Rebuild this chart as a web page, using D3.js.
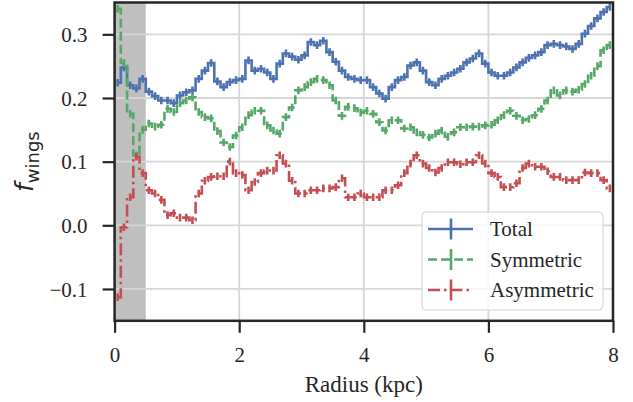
<!DOCTYPE html>
<html><head><meta charset="utf-8">
<script src="https://cdn.jsdelivr.net/npm/d3@7"></script>
<style>body{margin:0;background:#fff} .serif{font-family:"Liberation Serif","Times New Roman","DejaVu Serif",serif;}</style>
</head><body><svg id="c" width="633" height="402"></svg>
<script>
const radius = [0.05,0.15,0.25,0.35,0.45,0.55,0.65,0.75,0.85,0.95,1.05,1.15,1.25,1.35,1.45,1.55,1.65,1.75,1.85,1.95,
2.05,2.15,2.25,2.35,2.45,2.55,2.65,2.75,2.85,2.95,3.05,3.15,3.25,3.35,3.45,3.55,3.65,3.75,3.85,3.95,
4.05,4.15,4.25,4.35,4.45,4.55,4.65,4.75,4.85,4.95,5.05,5.15,5.25,5.35,5.45,5.55,5.65,5.75,5.85,5.95,
6.05,6.15,6.25,6.35,6.45,6.55,6.65,6.75,6.85,6.95,7.05,7.15,7.25,7.35,7.45,7.55,7.65,7.75,7.85,7.95];
const total = [0.224,0.248,0.220,0.215,0.230,0.210,0.203,0.196,0.196,0.192,0.204,0.209,0.212,0.230,0.243,0.255,0.226,0.217,0.225,0.228,
0.230,0.259,0.243,0.246,0.240,0.230,0.254,0.270,0.265,0.260,0.267,0.288,0.283,0.290,0.272,0.257,0.243,0.233,0.230,0.228,
0.228,0.217,0.207,0.199,0.217,0.228,0.233,0.251,0.256,0.243,0.225,0.220,0.230,0.235,0.240,0.246,0.256,0.262,0.270,0.254,
0.240,0.235,0.235,0.240,0.248,0.256,0.263,0.267,0.272,0.283,0.285,0.283,0.281,0.277,0.285,0.301,0.313,0.325,0.335,0.343];
const symmetric = [0.340,0.255,0.175,0.110,0.150,0.160,0.155,0.158,0.183,0.178,0.192,0.196,0.201,0.178,0.170,0.168,0.148,0.130,0.123,0.141,
0.154,0.173,0.180,0.180,0.157,0.149,0.144,0.170,0.185,0.212,0.217,0.225,0.230,0.228,0.220,0.196,0.172,0.186,0.184,0.177,
0.180,0.175,0.162,0.149,0.165,0.165,0.152,0.154,0.146,0.142,0.138,0.144,0.149,0.139,0.146,0.154,0.154,0.155,0.155,0.157,
0.158,0.165,0.173,0.180,0.172,0.165,0.167,0.173,0.183,0.196,0.212,0.204,0.212,0.210,0.213,0.222,0.235,0.250,0.275,0.283];
const asymmetric = [-0.113,-0.003,0.044,0.108,0.082,0.055,0.050,0.040,0.016,0.019,0.012,0.012,0.008,0.050,0.070,0.076,0.077,0.077,0.100,0.082,
0.079,0.055,0.068,0.082,0.086,0.086,0.110,0.097,0.070,0.050,0.050,0.055,0.055,0.058,0.058,0.060,0.074,0.044,0.044,0.050,
0.044,0.044,0.044,0.055,0.055,0.063,0.082,0.097,0.110,0.097,0.090,0.083,0.090,0.099,0.099,0.096,0.099,0.099,0.110,0.097,
0.082,0.076,0.060,0.060,0.066,0.090,0.097,0.092,0.092,0.085,0.076,0.076,0.071,0.071,0.071,0.083,0.082,0.082,0.071,0.058];
const errSize = 0.006;
const xTicks = [0,2,4,6,8];
const yTicks = [-0.1,0.0,0.1,0.2,0.3];
const shadeRange = [0, 0.5];
const seriesNames = ["Total","Symmetric","Asymmetric"];
const seriesColors = ["#4C72B0","#55A868","#C44E52"];
const seriesDash = [null,"9,4","12,4,2.5,4"];
const seriesValues = [total, symmetric, asymmetric];

const svg = d3.select("#c");
const x = d3.scaleLinear().domain([0,8]).range([114.6,613]);
const y = d3.scaleLinear().domain([-0.15,0.35]).range([320.8,2.5]);
const serif = '"Liberation Serif","Times New Roman","DejaVu Serif",serif';

svg.append("defs").append("clipPath").attr("id","clip").append("rect")
  .attr("x",x(0)).attr("y",y(0.35)).attr("width",x(8)-x(0)).attr("height",y(-0.15)-y(0.35));

// shaded region
svg.append("rect").attr("x",x(shadeRange[0])).attr("y",y(0.35))
  .attr("width",x(shadeRange[1])-x(shadeRange[0])).attr("height",y(-0.15)-y(0.35))
  .attr("fill","#bfbfbf");

// grid
const grid = svg.append("g").attr("stroke","#d6d6d6").attr("stroke-width",1.8);
xTicks.forEach(t=>grid.append("line").attr("x1",x(t)).attr("x2",x(t)).attr("y1",y(0.35)).attr("y2",y(-0.15)));
yTicks.forEach(t=>grid.append("line").attr("y1",y(t)).attr("y2",y(t)).attr("x1",x(0)).attr("x2",x(8)));

// series
const plot = svg.append("g").attr("clip-path","url(#clip)");
seriesValues.forEach((vals,i)=>{
  const data = radius.map((r,j)=>({r, v:vals[j]}));
  const line = d3.line().x(d=>x(d.r)).y(d=>y(d.v)).curve(d3.curveStep);
  const g = plot.append("g");
  g.append("path").attr("d",line(data)).attr("fill","none")
    .attr("stroke",seriesColors[i]).attr("stroke-width",2.6)
    .attr("stroke-dasharray",seriesDash[i]);
  g.selectAll("line.err").data(data).enter().append("line")
    .attr("x1",d=>x(d.r)).attr("x2",d=>x(d.r))
    .attr("y1",d=>y(d.v-errSize)).attr("y2",d=>y(d.v+errSize))
    .attr("stroke",seriesColors[i]).attr("stroke-width",2.6);
});

// axes
const xAxis = d3.axisBottom(x).tickValues(xTicks).tickSize(12).tickPadding(14).tickFormat(d3.format("d"));
const yAxis = d3.axisLeft(y).tickValues(yTicks).tickSize(12).tickPadding(15).tickFormat(d3.format(".1f"));
const gx = svg.append("g").attr("transform",`translate(0,${y(-0.15)})`).call(xAxis);
const gy = svg.append("g").attr("transform",`translate(${x(0)},0)`).call(yAxis);
[gx,gy].forEach(g=>{
  g.attr("font-family",serif).attr("font-size",21);
  g.select(".domain").remove();
  g.selectAll(".tick line").attr("stroke","#262626").attr("stroke-width",2.2);
  g.selectAll(".tick text").attr("fill","#262626").attr("class","serif").style("font-size","21px");
});
gy.selectAll(".tick text").attr("dy","0.34em");

// spines
svg.append("rect").attr("x",x(0)).attr("y",y(0.35)).attr("width",x(8)-x(0)).attr("height",y(-0.15)-y(0.35))
  .attr("fill","none").attr("stroke","#262626").attr("stroke-width",2.5);

// axis labels
svg.append("text").attr("class","serif").attr("x",(x(0)+x(8))/2).attr("y",392).attr("text-anchor","middle")
  .style("font-size","23px").attr("fill","#262626").text("Radius (kpc)");
const yl = svg.append("text").attr("transform",`translate(33,${(y(0.35)+y(-0.15))/2}) rotate(-90)`)
  .attr("text-anchor","middle").attr("fill","#262626").attr("font-family","DejaVu Sans, sans-serif");
yl.append("tspan").style("font-style","italic").style("font-size","25px").text("f");
yl.append("tspan").style("font-size","18px").attr("dy","6").text("wings");

// legend
const lg = svg.append("g");
lg.append("rect").attr("x",422).attr("y",212).attr("width",181).attr("height",98).attr("rx",4)
  .attr("fill","#fff").attr("fill-opacity",0.8).attr("stroke","#d0d0d0").attr("stroke-width",1);
seriesNames.forEach((name,i)=>{
  const cy = 229 + i*30.5;
  lg.append("line").attr("x1",428).attr("x2",473).attr("y1",cy).attr("y2",cy)
    .attr("stroke",seriesColors[i]).attr("stroke-width",2.6).attr("stroke-dasharray",seriesDash[i]);
  lg.append("line").attr("x1",451).attr("x2",451).attr("y1",cy-10.5).attr("y2",cy+10.5)
    .attr("stroke",seriesColors[i]).attr("stroke-width",2.6);
  lg.append("text").attr("class","serif").attr("x",490).attr("y",cy+7).attr("fill","#262626")
    .style("font-size","21px").text(name);
});
</script></body></html>
